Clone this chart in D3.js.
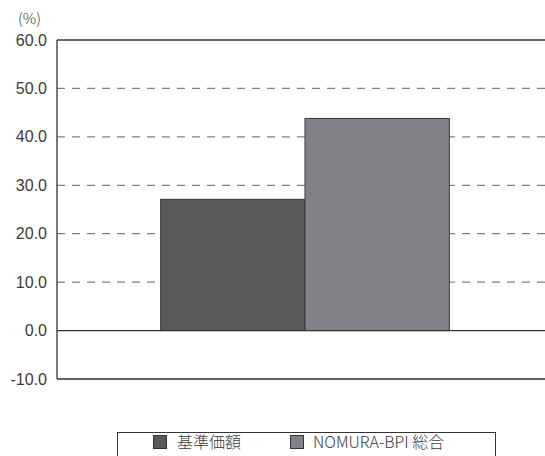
<!DOCTYPE html>
<html>
<head>
<meta charset="utf-8">
<style>
    body { margin: 0; background: #fff; }
    svg { display: block; font-family: "Noto Sans CJK JP", "Noto Sans", sans-serif; }
    .y .tick text { font-size: 16px; fill: #3a3a3a; font-weight: 300; }
    .y .tick line { display: none; }
    .y .domain { display: none; }
    .legend-text { font-size: 16px; fill: #3a3a3a; font-weight: 300; }
</style>
</head>
<body>
<svg width="545" height="456"></svg>
<script src="https://d3js.org/d3.v7.min.js"></script>
<script>
    let categories = ["基準価額", "NOMURA-BPI 総合"]
    let values = [27.1, 43.8]
    let tickValues = [-10, 0, 10, 20, 30, 40, 50, 60]
    let barColors = ["#58595b", "#808285"]

    let svg = d3.select("svg")
    let margin = { top: 40, right: 0, bottom: 77, left: 57 }
    let width = 545
    let height = 456

    let x = d3.scaleBand()
        .domain(categories)
        .range([margin.left, width - margin.right])
        .paddingInner(0)
        .paddingOuter(0.69)
        .align(0.52)

    let y = d3.scaleLinear()
        .domain([-10, 60])
        .range([height - margin.bottom, margin.top])

    // dashed grid
    svg.append("g")
        .selectAll("line")
        .data(tickValues.filter(d => d > 0 && d < 60))
        .join("line")
        .attr("x1", margin.left)
        .attr("x2", width - margin.right)
        .attr("y1", d => y(d))
        .attr("y2", d => y(d))
        .attr("stroke", "#808080")
        .attr("stroke-width", 1.3)
        .attr("stroke-dasharray", "8,7")

    // bars
    svg.append("g")
        .selectAll("rect")
        .data(categories)
        .join("rect")
        .attr("x", d => x(d))
        .attr("y", (d, i) => y(values[i]))
        .attr("width", x.bandwidth())
        .attr("height", (d, i) => y(0) - y(values[i]))
        .attr("fill", (d, i) => barColors[i])
        .attr("stroke", "#3a3a3a")
        .attr("stroke-width", 1)

    // solid lines: top, zero, bottom
    svg.append("g")
        .selectAll("line")
        .data([60, 0, -10])
        .join("line")
        .attr("x1", margin.left)
        .attr("x2", width - margin.right)
        .attr("y1", d => y(d))
        .attr("y2", d => y(d))
        .attr("stroke", "#333")
        .attr("stroke-width", 1.3)

    svg.append("line")
        .attr("x1", margin.left)
        .attr("x2", margin.left)
        .attr("y1", y(60))
        .attr("y2", y(-10))
        .attr("stroke", "#333")
        .attr("stroke-width", 1.3)

    svg.append("g")
        .attr("class", "y axis")
        .attr("transform", `translate(${margin.left}, 0)`)
        .call(d3.axisLeft(y).tickValues(tickValues).tickFormat(d => d.toFixed(1)).tickSize(0).tickPadding(10))

    svg.append("text")
        .attr("class", "legend-text")
        .attr("x", 18)
        .attr("y", 24)
        .style("font-size", "15px")
        .text("(%)")

    // legend
    svg.append("rect")
        .attr("x", 117.5)
        .attr("y", 432.5)
        .attr("width", 378)
        .attr("height", 30)
        .attr("fill", "none")
        .attr("stroke", "#333")
        .attr("stroke-width", 1)

    let legendX = [153, 290]
    let items = svg.append("g")
        .selectAll("g")
        .data(categories)
        .join("g")
        .attr("transform", (d, i) => `translate(${legendX[i]}, 442)`)

    items.append("rect")
        .attr("x", 0.5)
        .attr("y", -6.5)
        .attr("width", 13)
        .attr("height", 13)
        .attr("fill", (d, i) => barColors[i])
        .attr("stroke", "#333")

    items.append("text")
        .attr("class", "legend-text")
        .attr("x", (d, i) => i == 0 ? 24 : 23)
        .attr("y", 0)
        .attr("dy", "0.35em")
        .text(d => d)
</script>
</body>
</html>
